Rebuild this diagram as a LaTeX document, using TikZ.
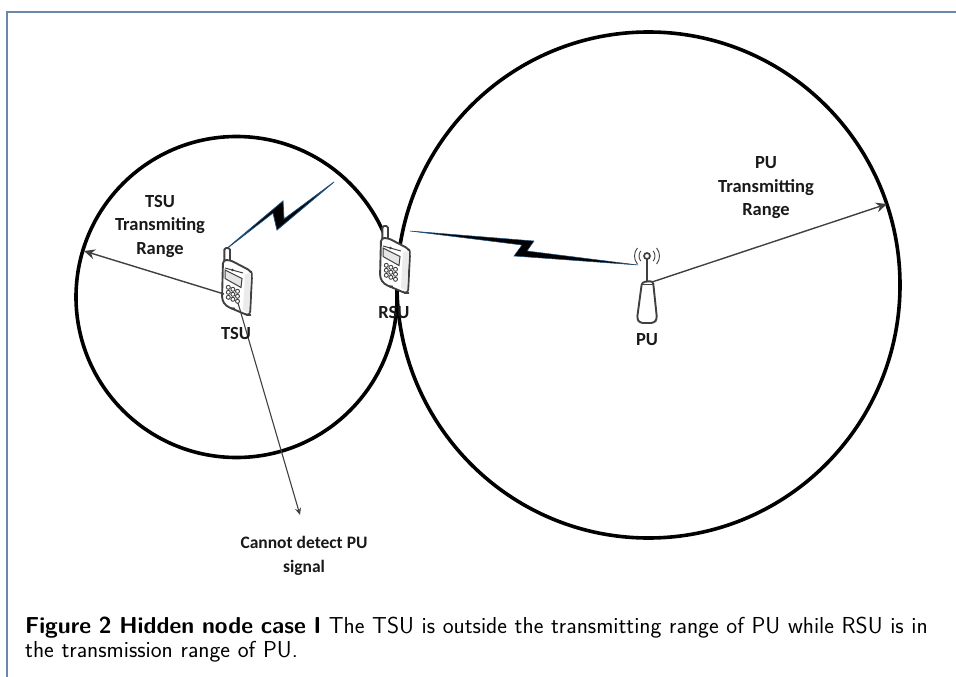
\documentclass[tikz,border=0pt]{standalone}
\usepackage{fontspec}
\setmainfont{Carlito}
\setsansfont{Latin Modern Sans}
\usetikzlibrary{arrows.meta,shapes.geometric}
\definecolor{framec}{HTML}{6C87A8}
\definecolor{bolt}{HTML}{1F4E79}
\definecolor{linec}{HTML}{404040}
\tikzset{
  x=1pt,y=-1pt,
  rangecircle/.style={draw=black,line width=3.6pt,fill=none},
  rangearrow/.style={draw=linec,line width=1.4pt,-{Stealth[length=11pt,width=10pt]}},
  probearrow/.style={draw=linec,line width=1.1pt,-{Stealth[length=7pt,width=6pt]}},
  boltshape/.style={fill=black,draw=bolt,line width=0.8pt,line join=miter},
  lbl/.style={font=\fontsize{18.5}{23.5}\selectfont\bfseries,align=center,inner sep=0pt,text=black!90},
  device/.style={draw=linec,line width=1.9pt,fill=white,line join=round},
  framerule/.style={draw=framec,line width=1.2pt},
}
\newcommand{\phonedev}[2]{%
\begin{scope}[shift={(#1,#2)}]
  \draw[device,rounded corners=1.6pt] (2.4,-12) rectangle (8,3);
  \draw[device,rounded corners=3.5pt] (1,0) -- (8,0) -- (29,11) -- (30,15) -- (28,55) -- (25,55) -- (4,46) -- (0,40) -- cycle;
  \fill[black!8] (23,14) -- (29,13) -- (27,53) -- (21,50) -- cycle;
  \draw[linec,line width=1pt] (3,8) -- (21,13);
  \fill[linec] (10.5,10) circle (1.4);
  \draw[draw=linec,line width=1pt,fill=black!10] (3,10) -- (20,18.5) -- (19,27.5) -- (3,18.5) -- cycle;
  \foreach \r in {0,1,2}{\foreach \c in {0,1,2}{
    \draw[linec,line width=0.9pt,fill=white] ({6.3+4.6*\c},{27.3+2*\c+5*\r}) circle (2);}}
  \fill[linec] (11,48.5) ellipse (2.2 and 1.1);
\end{scope}}
\begin{document}
\begin{tikzpicture}
\useasboundingbox (0,0) rectangle (956,677);
\coordinate (fa) at (7,677); \coordinate (fb) at (7,12); \coordinate (fc) at (956,12);
\draw[framerule] (fa) -- (fb) -- (fc);
\node[rangecircle,circle,minimum size=321pt,inner sep=0pt] (tsurange) at (236.5,297) {};
\node[rangecircle,ellipse,minimum width=503pt,minimum height=506pt,inner sep=0pt] (purange) at (648.5,285) {};
% bolts
\draw[boltshape] (225,250) -- (283,201) -- (284,219) -- (334,182) -- (277,230) -- (273,213) -- cycle;
\draw[boltshape,line width=0.5pt] (410,231) -- (534,241) -- (527,251) -- (638,265) -- (514,256) -- (522,245) -- cycle;
% devices
\phonedev{222}{260}
\phonedev{380}{238}
\coordinate (tsuphone) at (224,294);
\coordinate (tsuprobe) at (238,303);
\coordinate (putop) at (652,282);
\coordinate (tsuend) at (84,251);
\coordinate (puend) at (887,204);
\coordinate (probeend) at (300,515);
\draw[rangearrow] (tsuphone) -- (tsuend);
\draw[probearrow] (tsuprobe) -- (probeend);
% PU tower
\draw[linec,line width=1.9pt] (647,282) -- (647,256);
\draw[linec,line width=1.7pt,fill=white] (647,256) circle (3);
\foreach \rr in {8,12.5}{
  \draw[linec,line width=0.9pt] (647,256) ++(140:\rr) arc[start angle=140,end angle=220,radius=\rr];
  \draw[linec,line width=0.9pt] (647,256) ++(40:\rr) arc[start angle=40,end angle=-40,radius=\rr];
}
\draw[device,rounded corners=3pt] (642,282) -- (653,281) -- (657,319) -- (654,323) -- (640,323) -- (637,319) -- cycle;
\draw[linec,line width=0.8pt] (642,284) -- (653,284);
\draw[rangearrow] (putop) -- (puend);
% labels
\node[lbl] (tsurangelbl) at (160,226) {TSU\\Transmiting\\Range};
\node[lbl] (purangelbl) at (766,188) {PU\\Transmitting\\Range};
\node[lbl] (rsulbl) at (394,312) {RSU};
\node[lbl] (tsulbl) at (236,333) {TSU};
\node[lbl] (pulbl) at (647,340) {PU};
\node[lbl,font=\fontsize{17.5}{23.5}\selectfont\bfseries] (cannot) at (304,556) {Cannot detect PU\\signal};
\node[anchor=base west,inner sep=0pt,align=left,text width=930pt,font=\sffamily\fontsize{23.1}{24}\selectfont] (cap) at (25,633)
  {\textbf{Figure 2 Hidden node case I} The TSU is outside the transmitting range of PU while RSU is in\\the transmission range of PU.};
\end{tikzpicture}
\end{document}
